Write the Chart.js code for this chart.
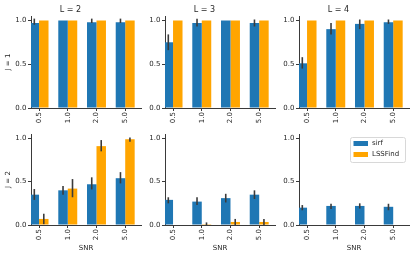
<!DOCTYPE html>
<html>
<head>
<meta charset="utf-8">
<script src="https://cdn.jsdelivr.net/npm/chart.js@4.4.1/dist/chart.umd.min.js"></script>
<style>
  html, body { margin: 0; padding: 0; background: #fff; }
  #fig { position: relative; width: 415px; height: 258px; overflow: hidden; }
  #fig canvas { position: absolute; }
</style>
</head>
<body>
<div id="fig"></div>
<script>
const snrLabels = ["0.5", "1.0", "2.0", "5.0"];
const panelTitles = ["L = 2", "L = 3", "L = 4"];
const rowTitles = ["J = 1", "J = 2"];
const yTicks = [0, 0.5, 1.0];
const seriesNames = ["sirf", "LSSFind"];

// J = 1 (one inner array per L)
const sirfJ1 = [[0.97, 1.0, 0.98, 0.98], [0.75, 0.97, 1.0, 0.97], [0.51, 0.90, 0.96, 0.98]];
const sirfJ1Lo = [[0.95, 1.0, 0.97, 0.97], [0.66, 0.93, 1.0, 0.93], [0.45, 0.84, 0.90, 0.96]];
const sirfJ1Hi = [[1.02, 1.0, 1.02, 1.02], [0.84, 1.02, 1.0, 1.01], [0.58, 0.97, 1.01, 1.01]];
const lssJ1 = [[1.0, 1.0, 1.0, 1.0], [1.0, 1.0, 1.0, 1.0], [1.0, 1.0, 1.0, 1.0]];
const lssJ1Lo = [[1.0, 1.0, 1.0, 1.0], [1.0, 1.0, 1.0, 1.0], [1.0, 1.0, 1.0, 1.0]];
const lssJ1Hi = [[1.0, 1.0, 1.0, 1.0], [1.0, 1.0, 1.0, 1.0], [1.0, 1.0, 1.0, 1.0]];

// J = 2
const sirfJ2 = [[0.35, 0.40, 0.47, 0.54], [0.29, 0.27, 0.31, 0.35], [0.20, 0.22, 0.22, 0.21]];
const sirfJ2Lo = [[0.29, 0.35, 0.41, 0.48], [0.25, 0.23, 0.26, 0.30], [0.17, 0.185, 0.19, 0.17]];
const sirfJ2Hi = [[0.415, 0.45, 0.55, 0.61], [0.32, 0.32, 0.36, 0.40], [0.23, 0.245, 0.25, 0.245]];
const lssJ2 = [[0.07, 0.42, 0.91, 0.99], [0, 0.01, 0.035, 0.035], [0, 0, 0, 0]];
const lssJ2Lo = [[0.01, 0.32, 0.85, 0.96], [0, 0, 0, 0], [0, 0, 0, 0]];
const lssJ2Hi = [[0.13, 0.53, 0.98, 1.01], [0, 0.03, 0.07, 0.07], [0, 0, 0, 0]];

const sirf = [sirfJ1, sirfJ2], sirfLo = [sirfJ1Lo, sirfJ2Lo], sirfHi = [sirfJ1Hi, sirfJ2Hi];
const lss = [lssJ1, lssJ2], lssLo = [lssJ1Lo, lssJ2Lo], lssHi = [lssJ1Hi, lssJ2Hi];

const blue = "#1f77b4";
const orange = "#ffa500";
const textColor = "#262626";
const axisColor = "#3a3a3a";
const errColor = "#3b3b3b";
const fam = "'DejaVu Sans', sans-serif";

// layout of the grid
const colLeft = [31, 165, 299];
const plotW = 110;
const yAxisW = 31;

const errorBars = {
  id: "errorBars",
  afterDatasetsDraw(chart) {
    const { ctx } = chart;
    const y = chart.scales.y;
    ctx.save();
    ctx.strokeStyle = errColor;
    ctx.lineWidth = 1.6;
    chart.data.datasets.forEach((ds, d) => {
      chart.getDatasetMeta(d).data.forEach((bar, i) => {
        const lo = ds.lo[i], hi = ds.hi[i];
        if (hi <= lo) return;
        ctx.beginPath();
        ctx.moveTo(bar.x, y.getPixelForValue(lo));
        ctx.lineTo(bar.x, y.getPixelForValue(hi));
        ctx.stroke();
      });
    });
    ctx.restore();
  }
};

const legendBox = {
  id: "legendBox",
  afterDraw(chart) {
    const { ctx, chartArea } = chart;
    const w = 55, h = 25;
    const x0 = chartArea.right - w - 4, y0 = chartArea.top + 3;
    ctx.save();
    ctx.fillStyle = "rgba(255,255,255,0.8)";
    ctx.strokeStyle = "#d8d8d8";
    ctx.lineWidth = 1;
    ctx.beginPath();
    ctx.roundRect(x0 + 0.5, y0 + 0.5, w, h, 2);
    ctx.fill();
    ctx.stroke();
    ctx.font = "7px " + fam;
    ctx.textBaseline = "middle";
    chart.data.datasets.forEach((ds, i) => {
      const cy = y0 + 6.5 + i * 11;
      ctx.fillStyle = ds.backgroundColor;
      ctx.fillRect(x0 + 3.5, cy - 2.5, 14.5, 5);
      ctx.fillStyle = textColor;
      ctx.fillText(ds.label, x0 + 22, cy);
    });
    ctx.restore();
  }
};

const fig = document.getElementById("fig");

function panel(row, col) {
  const canvas = document.createElement("canvas");
  canvas.width = yAxisW + plotW + 4;
  canvas.height = 130;
  canvas.style.left = (colLeft[col] - yAxisW) + "px";
  canvas.style.top = (row === 0 ? 0 : 128) + "px";
  fig.appendChild(canvas);

  const tickFont = { family: fam, size: 7 };

  new Chart(canvas, {
    type: "bar",
    data: {
      datasets: [
        {
          label: seriesNames[0],
          data: sirf[row][col].map((v, i) => ({ x: i, y: v })),
          lo: sirfLo[row][col],
          hi: sirfHi[row][col],
          backgroundColor: blue,
        },
        {
          label: seriesNames[1],
          data: lss[row][col].map((v, i) => ({ x: i, y: v })),
          lo: lssLo[row][col],
          hi: lssHi[row][col],
          backgroundColor: orange,
        },
      ],
    },
    options: {
      responsive: false,
      animation: false,
      devicePixelRatio: 1,
      clip: 0,
      datasets: { bar: { categoryPercentage: 0.66, barPercentage: 1.0 } },
      layout: { padding: { left: 0, right: 4, top: row === 0 ? 0 : 6, bottom: 0 } },
      plugins: {
        legend: { display: false },
        tooltip: { enabled: false },
        title: {
          display: row === 0,
          text: panelTitles[col],
          color: textColor,
          font: { family: fam, size: 8, weight: "normal" },
          padding: { top: 5, bottom: 1.4 },
        },
      },
      scales: {
        x: {
          type: "linear",
          min: -0.28,
          max: 3.55,
          offset: false,
          grid: { display: true, drawOnChartArea: false, drawTicks: true, tickLength: 3, color: axisColor, offset: false },
          border: { display: true, color: axisColor, width: 1 },
          ticks: {
            autoSkip: false,
            minRotation: 90,
            maxRotation: 90,
            padding: 1,
            color: textColor,
            font: tickFont,
            callback: (v) => snrLabels[v],
          },
          afterBuildTicks: (a) => { a.ticks = snrLabels.map((s, i) => ({ value: i })); },
          afterFit: (a) => { a.height = row === 0 ? 22 : 33; },
          title: {
            display: row === 1,
            text: "SNR",
            color: textColor,
            font: tickFont,
            padding: { top: 0, bottom: 5.8 },
          },
        },
        y: {
          min: 0,
          max: 1.05,
          grid: { display: true, drawOnChartArea: false, drawTicks: true, tickLength: 3, color: axisColor },
          border: { display: true, color: axisColor, width: 1 },
          ticks: {
            padding: 1.5,
            color: textColor,
            font: tickFont,
            callback: (v) => v.toFixed(1),
          },
          afterBuildTicks: (a) => { a.ticks = yTicks.map((v) => ({ value: v })); },
          afterFit: (a) => { a.width = yAxisW; },
          title: {
            display: col === 0,
            text: rowTitles[row],
            color: textColor,
            font: tickFont,
            padding: { top: 3.8, bottom: 0 },
          },
        },
      },
    },
    plugins: row === 1 && col === 2 ? [errorBars, legendBox] : [errorBars],
  });
}

for (let r = 0; r < 2; r++) {
  for (let c = 0; c < 3; c++) panel(r, c);
}
</script>
</body>
</html>
